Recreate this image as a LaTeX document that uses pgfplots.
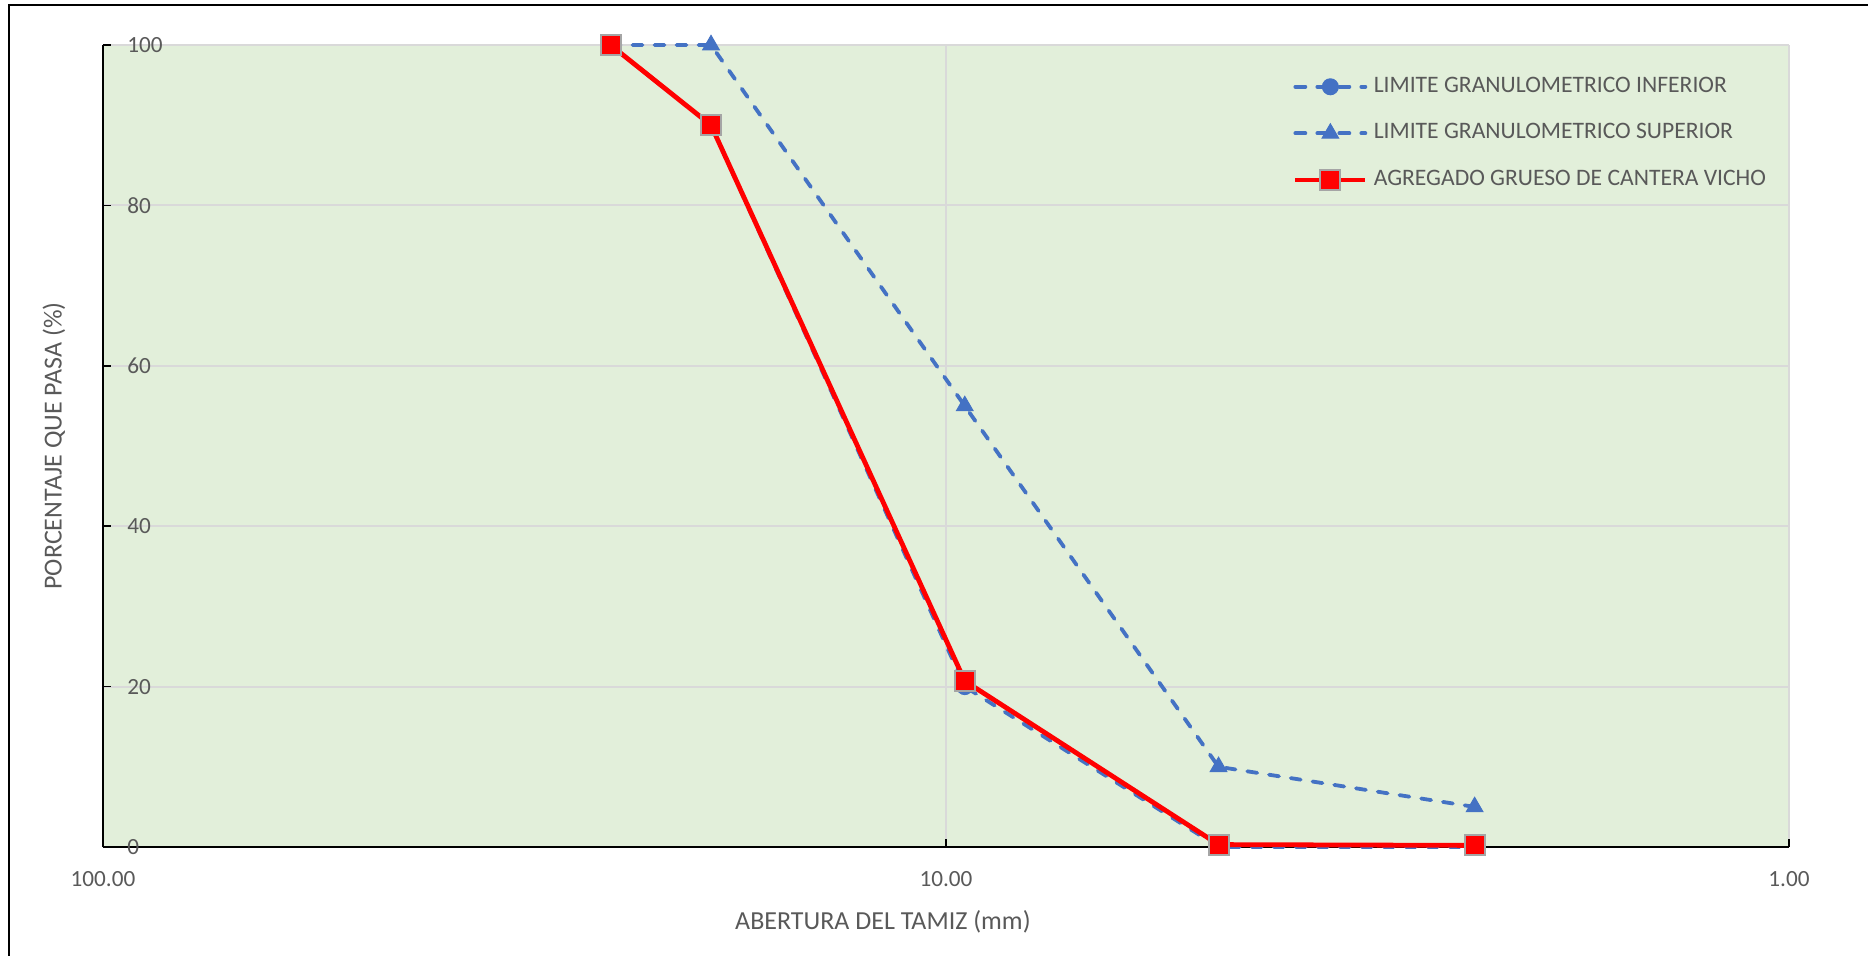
\documentclass[border=0pt]{standalone}
\usepackage{fontspec}
\setmainfont{Carlito}
\usepackage{pgfplots}
\pgfplotsset{compat=1.18}
\definecolor{bggreen}{HTML}{E2EFDA}
\definecolor{gridgray}{HTML}{D9D9D9}
\definecolor{txtgray}{HTML}{595959}
\definecolor{limblue}{HTML}{4472C4}
\definecolor{mkgray}{HTML}{A5A5A5}

% Gradation data: sieve opening (mm) vs. percent passing
\pgfplotstableread{
x     y
25    100
19    90
9.5   20
4.75  0
2.36  0
}\liminf
\pgfplotstableread{
x     y
25    100
19    100
9.5   55
4.75  10
2.36  5
}\limsup
\pgfplotstableread{
x     y
25    100
19    90
9.5   20.7
4.75  0.3
2.36  0.2
}\vicho

\begin{document}
\begin{tikzpicture}
\begin{axis}[
  at={(51.5pt,54pt)}, anchor=south west,
  scale only axis, width=843pt, height=401pt,
  xmode=log, x dir=reverse, xmin=1, xmax=100,
  ymin=0, ymax=100, clip=false,
  xtick={1,10,100}, xticklabels={1.00,10.00,100.00},
  xminorticks=false,
  ytick={0,20,40,60,80,100}, yticklabels={0,20,40,60,80,100},
  /pgf/number format/assume math mode=true,
  axis background/.style={fill=bggreen},
  grid=major,
  major grid style={draw=gridgray, line width=1pt},
  axis x line*=bottom, axis y line*=left,
  axis line style={-, black, line width=0.8pt},
  tick align=inside, major tick length=4pt,
  tick style={black, line width=0.8pt},
  ticklabel style={font=\fontsize{11.6}{14}\selectfont, text=txtgray},
  yticklabel style={anchor=west, inner sep=0pt, xshift=12pt},
  xticklabel style={anchor=center, inner sep=0pt, yshift=-16pt},
  label style={font=\fontsize{13}{15.6}\selectfont, text=txtgray},
  xlabel={ABERTURA DEL TAMIZ (mm)},
  xlabel style={at={(axis description cs:0.4626,0)}, anchor=center, inner sep=0pt, yshift=-37.5pt},
  ylabel={PORCENTAJE QUE PASA (\%)},
  ylabel style={at={(axis description cs:-0.02906,0.5)}, anchor=center, inner sep=0pt},
  legend cell align=left,
  legend style={draw=none, fill=none, inner sep=0pt, outer sep=0pt,
    at={(axis description cs:0.7058,0.961)}, anchor=north west,
    row sep=12.8pt, column sep=3pt,
    font=\fontsize{11.8}{14}\selectfont, text=txtgray,
    nodes={inner sep=0pt, text height=8pt, text depth=2.5pt}},
  legend image code/.code={
    \draw[mark repeat=2, mark phase=2, #1] plot coordinates {(0pt,0pt) (17.5pt,0pt) (35pt,0pt)};
  },
  limit/.style={limblue, line width=1.9pt, line cap=round, dash pattern=on 5pt off 6pt},
]
\addplot[limit,
  mark=*, mark size=4pt, mark options={solid, fill=limblue, draw=limblue, line width=0.5pt}]
  table[x=x, y=y] {\liminf};
\addlegendentry{LIMITE GRANULOMETRICO INFERIOR}
\addplot[limit,
  mark=triangle*, mark size=4.8pt, mark options={solid, fill=limblue, draw=limblue, line width=0.5pt}]
  table[x=x, y=y] {\limsup};
\addlegendentry{LIMITE GRANULOMETRICO SUPERIOR}
\addplot[red, line width=2.4pt,
  mark=square*, mark size=5pt, mark options={solid, fill=red, draw=mkgray, line width=1pt}]
  table[x=x, y=y] {\vicho};
\addlegendentry{AGREGADO GRUESO DE CANTERA VICHO}
\end{axis}
% outer chart frame
\draw[black, line width=1pt] (4.5pt,-10pt) -- (4.5pt,475pt) -- (945pt,475pt);
\pgfresetboundingbox
\useasboundingbox (0pt,0pt) rectangle (934pt,477.5pt);
\end{tikzpicture}
\end{document}
